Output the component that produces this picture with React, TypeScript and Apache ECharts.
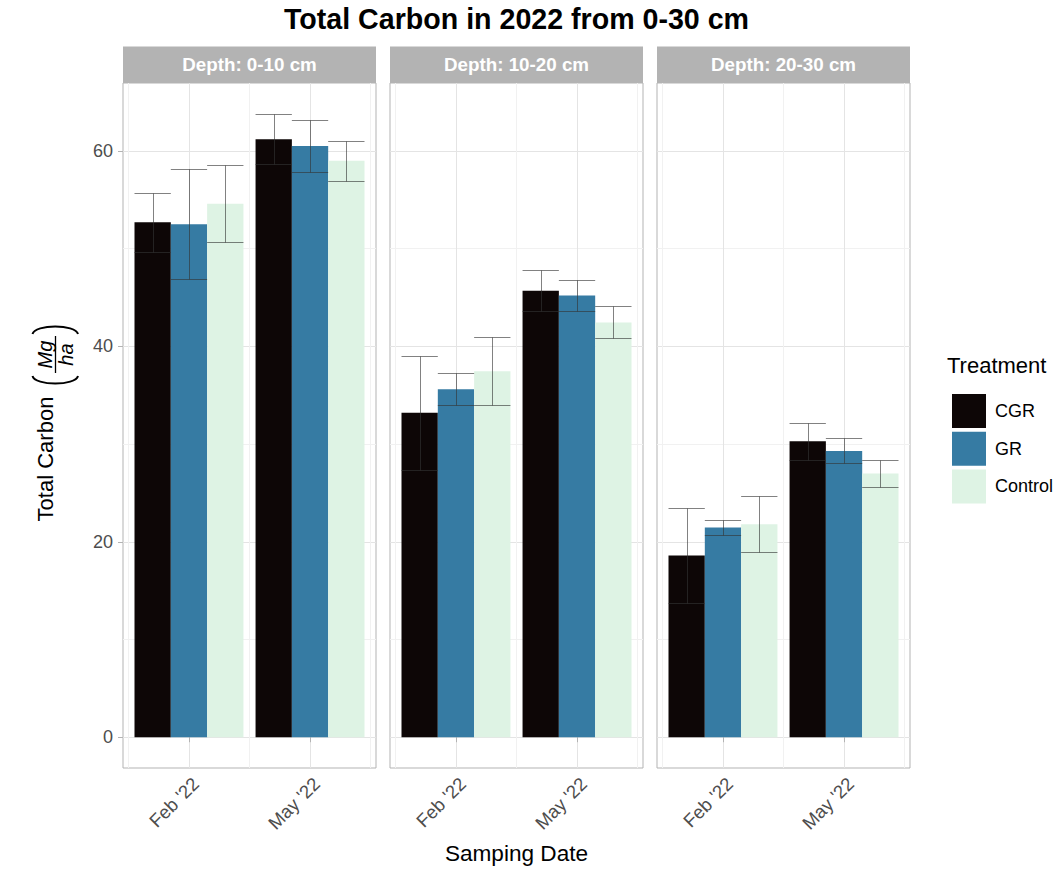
import React, { useEffect, useRef } from 'react';
import * as echarts from 'echarts';

// ---- data ----
const dates = ["Feb '22", "May '22"];
const datePos = [1, 2];
const depths = ['Depth: 0-10 cm', 'Depth: 10-20 cm', 'Depth: 20-30 cm'];
const treatments = ['CGR', 'GR', 'Control'];
const treatmentColors = ['#0D0606', '#367BA3', '#DEF3E4'];

// mean per depth: [Feb, May]
const cgrMean = [[52.7, 61.2], [33.2, 45.7], [18.6, 30.3]];
const grMean = [[52.5, 60.5], [35.6, 45.2], [21.45, 29.3]];
const controlMean = [[54.6, 59.0], [37.45, 42.45], [21.8, 27.0]];
// error half-width per depth: [Feb, May]
const cgrErr = [[3.0, 2.55], [5.85, 2.1], [4.9, 1.9]];
const grErr = [[5.6, 2.7], [1.65, 1.6], [0.8, 1.28]];
const controlErr = [[3.95, 2.03], [3.5, 1.64], [2.88, 1.36]];

const yTicks = [0, 20, 40, 60];

const means = [cgrMean, grMean, controlMean];
const errs = [cgrErr, grErr, controlErr];

const FONT = '"Liberation Sans", Arial, Helvetica, sans-serif';
const panelLeft = [123, 390, 657];
const panelWidth = 253;
const panelTop = 83;
const panelHeight = 685;
const X_MIN = 0.455;
const X_MAX = 2.545;
const Y_MIN = -3.15;
const Y_MAX = 66.95;
const DODGE = 0.3;
const MAJOR = '#e4e4e4';
const MINOR = '#f1f1f1';

export default function App() {
  const ref = useRef<HTMLDivElement>(null);
  useEffect(() => {
    document.body.style.margin = '0';
    if (!ref.current) return;
    const chart = echarts.init(ref.current, undefined, { renderer: 'svg' });

    const grid = panelLeft.map((l) => ({
      left: l,
      top: panelTop,
      width: panelWidth,
      height: panelHeight,
      show: true,
      borderColor: '#b3b3b3',
      borderWidth: 1,
      backgroundColor: 'transparent',
    }));

    const xAxis = panelLeft.map((_, i) => ({
      type: 'value',
      gridIndex: i,
      min: X_MIN,
      max: X_MAX,
      splitNumber: 2,
      axisLine: { show: false },
      axisTick: { show: true, length: 5, lineStyle: { color: '#b3b3b3' }, customValues: datePos },
      minorTick: { show: false, splitNumber: 2 },
      axisLabel: {
        customValues: datePos,
        rotate: 45,
        margin: 6,
        align: 'right',
        verticalAlign: 'top',
        fontSize: 18.5,
        fontFamily: FONT,
        color: '#4d4d4d',
        formatter: (v: number) => {
          const k = Math.round(v);
          if (Math.abs(v - k) > 1e-6) return '';
          const idx = datePos.indexOf(k);
          return idx >= 0 ? dates[idx] : '';
        },
      },
      splitLine: { show: true, lineStyle: { color: MAJOR, width: 1 } },
      minorSplitLine: { show: true, lineStyle: { color: MINOR, width: 1 } },
    }));

    const yAxis = panelLeft.map((_, i) => ({
      type: 'value',
      gridIndex: i,
      min: Y_MIN,
      max: Y_MAX,
      splitNumber: 4,
      axisLine: { show: false },
      axisTick: { show: i === 0, length: 5, lineStyle: { color: '#b3b3b3' }, customValues: yTicks },
      minorTick: { show: false, splitNumber: 2 },
      axisLabel: {
        show: i === 0,
        customValues: yTicks,
        margin: 10,
        fontSize: 18,
        fontFamily: FONT,
        color: '#4d4d4d',
        formatter: (v: number) => (yTicks.indexOf(Math.round(v * 1000) / 1000) >= 0 ? String(v) : ''),
      },
      splitLine: { show: true, lineStyle: { color: MAJOR, width: 1 } },
      minorSplitLine: { show: true, lineStyle: { color: MINOR, width: 1 } },
    }));

    const series: any[] = [];
    depths.forEach((_, d) => {
      treatments.forEach((name, t) => {
        const off = (t - 1) * DODGE;
        const data = datePos.map((x, k) => [x, means[t][d][k], errs[t][d][k]]);
        series.push({
          type: 'custom',
          name,
          xAxisIndex: d,
          yAxisIndex: d,
          z: 2,
          itemStyle: { color: treatmentColors[t] },
          encode: { x: 0, y: 1 },
          data,
          renderItem: (_p: any, api: any) => {
            const x = api.value(0);
            const y = api.value(1);
            const a = api.coord([x + off - DODGE / 2, y]);
            const b = api.coord([x + off + DODGE / 2, 0]);
            return {
              type: 'rect',
              shape: { x: a[0], y: a[1], width: b[0] - a[0], height: b[1] - a[1] },
              style: { fill: treatmentColors[t] },
            };
          },
        });
      });
    });
    depths.forEach((_, d) => {
      treatments.forEach((name, t) => {
        const off = (t - 1) * DODGE;
        const data = datePos.map((x, k) => [x, means[t][d][k], errs[t][d][k]]);
        series.push({
          type: 'custom',
          name: name + ' error',
          xAxisIndex: d,
          yAxisIndex: d,
          z: 3,
          encode: { x: 0, y: 1 },
          data,
          renderItem: (_p: any, api: any) => {
            const x = api.value(0);
            const y = api.value(1);
            const e = api.value(2);
            const top = api.coord([x + off, y + e]);
            const bot = api.coord([x + off, y - e]);
            const l = api.coord([x + off - DODGE / 2, y])[0];
            const r = api.coord([x + off + DODGE / 2, y])[0];
            const cx = Math.round(top[0]) + 0.5;
            const ty = Math.round(top[1]) + 0.5;
            const by = Math.round(bot[1]) + 0.5;
            const st = { stroke: '#333333', opacity: 0.62, lineWidth: 1 };
            return {
              type: 'group',
              children: [
                { type: 'line', shape: { x1: cx, y1: ty, x2: cx, y2: by }, style: st },
                { type: 'line', shape: { x1: l, y1: ty, x2: r, y2: ty }, style: st },
                { type: 'line', shape: { x1: l, y1: by, x2: r, y2: by }, style: st },
              ],
            };
          },
        });
      });
    });

    const txt = (text: string, x: number, y: number, o: any = {}) => ({
      type: 'text',
      x,
      y,
      rotation: o.rotation || 0,
      silent: true,
      style: {
        text,
        fill: o.fill || '#000',
        font: `${o.fontStyle || 'normal'} ${o.fontWeight || 'normal'} ${o.fontSize || 22}px ${FONT}`,
        textAlign: o.align || 'center',
        textVerticalAlign: 'middle',
        align: o.align || 'center',
        verticalAlign: 'middle',
      },
    });

    const graphic: any[] = [
      txt('Total Carbon in 2022 from 0-30 cm', 516.5, 18.5, { fontSize: 28.6, fontWeight: 'bold' }),
      ...depths.flatMap((label, d) => [
        {
          type: 'rect',
          silent: true,
          shape: { x: panelLeft[d], y: 46.5, width: panelWidth, height: panelTop - 46.5 },
          style: { fill: '#b3b3b3' },
        },
        txt(label, panelLeft[d] + panelWidth / 2, 64.8, { fontSize: 18.8, fontWeight: 'bold', fill: '#ffffff' }),
      ]),
      txt('Samping Date', 516.5, 853, { fontSize: 22.6 }),
      txt('Treatment', 947, 365.5, { fontSize: 22, align: 'left' }),
      // y-axis title: Total Carbon (Mg / ha)
      txt('Total Carbon', 45.5, 459, { fontSize: 22, rotation: Math.PI / 2 }),
      txt('Mg', 44.5, 354.5, { fontSize: 20, fontStyle: 'italic', rotation: Math.PI / 2 }),
      txt('ha', 66, 354.5, { fontSize: 20, fontStyle: 'italic', rotation: Math.PI / 2 }),
      {
        type: 'line',
        silent: true,
        shape: { x1: 55.5, y1: 336, x2: 55.5, y2: 373 },
        style: { stroke: '#000', lineWidth: 1.3 },
      },
      {
        type: 'bezierCurve',
        silent: true,
        shape: { x1: 32.5, y1: 376, x2: 78, y2: 376, cpx1: 35, cpy1: 386, cpx2: 75.5, cpy2: 386 },
        style: { stroke: '#000', lineWidth: 2, fill: 'none' },
      },
      {
        type: 'bezierCurve',
        silent: true,
        shape: { x1: 32.5, y1: 334, x2: 78, y2: 334, cpx1: 35, cpy1: 324, cpx2: 75.5, cpy2: 324 },
        style: { stroke: '#000', lineWidth: 2, fill: 'none' },
      },
    ];

    chart.setOption({
      animation: false,
      backgroundColor: '#ffffff',
      textStyle: { fontFamily: FONT },
      grid,
      xAxis,
      yAxis,
      legend: {
        orient: 'vertical',
        left: 947,
        top: 389,
        itemWidth: 34,
        itemHeight: 34,
        itemGap: 3.7,
        icon: 'rect',
        selectedMode: false,
        data: treatments,
        textStyle: { fontSize: 18, color: '#000', fontFamily: FONT, padding: [0, 0, 0, 4] },
      },
      series,
      graphic,
    });

    return () => chart.dispose();
  }, []);

  return <div ref={ref} style={{ width: 1062, height: 873 }} />;
}
